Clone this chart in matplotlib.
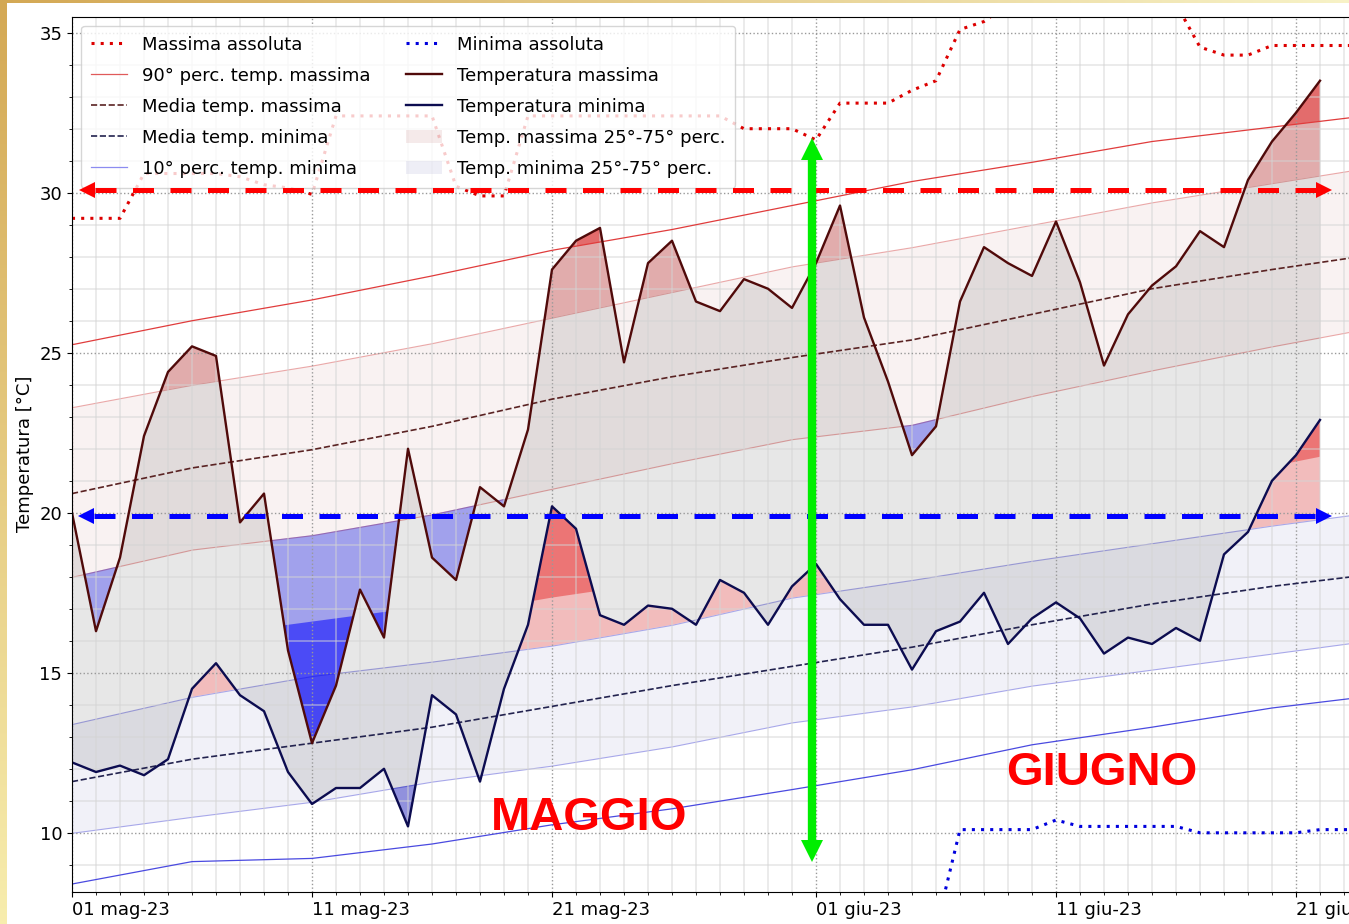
import numpy as np
import pandas as pd
import matplotlib
matplotlib.use("Agg")
import matplotlib.pyplot as plt
import matplotlib.dates as mdates
import matplotlib.transforms as mtransforms
from matplotlib.lines import Line2D
from matplotlib.patches import Patch
from matplotlib.ticker import MultipleLocator, FuncFormatter

# ---------------- data ----------------
start = "2023-05-01"
mesi = ["gen", "feb", "mar", "apr", "mag", "giu", "lug", "ago", "set", "ott", "nov", "dic"]

# observed daily values (1 May -> 22 Jun 2023)
tmax = [20.0, 16.3, 18.6, 22.4, 24.4, 25.2, 24.9, 19.7, 20.6, 15.7,
        12.8, 14.6, 17.6, 16.1, 22.0, 18.6, 17.9, 20.8, 20.2, 22.6,
        27.6, 28.5, 28.9, 24.7, 27.8, 28.5, 26.6, 26.3, 27.3, 27.0,
        26.4, 27.8, 29.6, 26.1, 24.1, 21.8, 22.7, 26.6, 28.3, 27.8,
        27.4, 29.1, 27.2, 24.6, 26.2, 27.1, 27.7, 28.8, 28.3, 30.4,
        31.6, 32.5, 33.5]
tmin = [12.2, 11.9, 12.1, 11.8, 12.3, 14.5, 15.3, 14.3, 13.8, 11.9,
        10.9, 11.4, 11.4, 12.0, 10.2, 14.3, 13.7, 11.6, 14.5, 16.5,
        20.2, 19.5, 16.8, 16.5, 17.1, 17.0, 16.5, 17.9, 17.5, 16.5,
        17.7, 18.4, 17.3, 16.5, 16.5, 15.1, 16.3, 16.6, 17.5, 15.9,
        16.7, 17.2, 16.7, 15.6, 16.1, 15.9, 16.4, 16.0, 18.7, 19.4,
        21.0, 21.8, 22.9]

# climatology, every 5 days from 1 May
p90_tmax = [25.25, 26.0, 26.65, 27.4, 28.2, 28.85, 29.6, 30.35, 30.95, 31.6, 32.05, 32.5]
p75_tmax = [23.3, 24.0, 24.6, 25.3, 26.1, 26.9, 27.7, 28.3, 29.0, 29.7, 30.3, 30.9]
mean_tmax = [20.6, 21.4, 21.97, 22.7, 23.55, 24.25, 24.85, 25.4, 26.2, 27.0, 27.6, 28.15]
p25_tmax = [18.0, 18.85, 19.3, 19.95, 20.75, 21.55, 22.3, 22.75, 23.65, 24.45, 25.2, 25.9]
p10_tmax = [15.6, 16.1, 16.6, 17.1, 17.8, 18.6, 19.3, 19.8, 20.5, 21.3, 22.0, 22.7]
p90_tmin = [14.9, 15.7, 16.2, 16.7, 17.35, 17.9, 18.6, 19.2, 19.9, 20.6, 21.45, 22.2]
p75_tmin = [13.4, 14.25, 14.9, 15.35, 15.85, 16.5, 17.35, 17.9, 18.5, 19.05, 19.6, 20.1]
mean_tmin = [11.6, 12.3, 12.8, 13.3, 13.95, 14.6, 15.2, 15.8, 16.5, 17.15, 17.7, 18.15]
p25_tmin = [10.0, 10.5, 10.97, 11.6, 12.1, 12.7, 13.45, 13.95, 14.6, 15.1, 15.6, 16.1]
p10_tmin = [8.4, 9.1, 9.2, 9.65, 10.25, 10.75, 11.35, 11.97, 12.75, 13.3, 13.9, 14.35]

# absolute records, daily from 1 May
abs_max = [29.2, 29.2, 29.2, 30.6, 30.6, 30.6, 30.6, 30.5, 30.25, 30.15,
           29.95, 32.4, 32.4, 32.4, 32.4, 32.4, 30.2, 29.9, 29.9, 32.4,
           32.4, 32.4, 32.4, 32.4, 32.4, 32.4, 32.4, 32.4, 32.0, 32.0,
           32.0, 31.65, 32.8, 32.8, 32.8, 33.2, 33.5, 35.1, 35.35, 35.9,
           36.3, 36.5, 36.5, 36.5, 36.4, 36.3, 35.9, 34.55, 34.3, 34.3,
           34.6, 34.6, 34.6, 34.6, 34.6, 34.6]
abs_min = [5.5, 5.5, 5.6, 5.8, 6.0, 6.0, 6.0, 6.0, 6.1, 6.3,
           6.3, 6.3, 6.3, 6.5, 6.5, 6.5, 6.5, 6.7, 6.7, 6.7,
           6.9, 6.9, 6.9, 6.9, 6.9, 6.9, 7.0, 7.0, 7.0, 7.0,
           7.0, 7.0, 7.0, 7.0, 7.0, 7.0, 7.0, 10.1, 10.1, 10.1,
           10.1, 10.4, 10.2, 10.2, 10.2, 10.2, 10.2, 10.0, 10.0, 10.0,
           10.0, 10.0, 10.1, 10.1, 10.1, 10.1]

labels = ["Massima assoluta", "90° perc. temp. massima", "Media temp. massima",
          "Media temp. minima", "10° perc. temp. minima", "Minima assoluta",
          "Temperatura massima", "Temperatura minima",
          "Temp. massima 25°-75° perc.", "Temp. minima 25°-75° perc."]

# ---------------- geometry / styles ----------------
W, H = 1349, 924
DPI = 100
PX_DAY = 24.0
YLIM = (8.16, 35.5)
N_DAYS_VIEW = 56
LOW, HIGH = -100.0, 200.0

x = mdates.date2num(pd.date_range(start, periods=len(tmax), freq="D"))
xc = mdates.date2num(pd.date_range(start, periods=len(p90_tmax), freq="5D"))
xa = mdates.date2num(pd.date_range(start, periods=len(abs_max), freq="D"))
x0 = mdates.date2num(pd.Timestamp(start))

fig = plt.figure(figsize=(W / DPI, H / DPI), dpi=DPI)
ax_left = 72 / W
ax_bottom = (H - 891.7) / H
ax_height = (891.7 - 16.7) / H
ax_width = N_DAYS_VIEW * PX_DAY / W
ax = fig.add_axes([ax_left, ax_bottom, ax_width, ax_height])

# gold border of the screenshot
left_strip = np.zeros((H, 7, 3))
tcol = np.linspace(0, 1, H)[:, None]
c_top = np.array([0.83, 0.66, 0.33])
c_bot = np.array([0.97, 0.93, 0.68])
left_strip[:] = (c_top * (1 - tcol) + c_bot * tcol)[:, None, :]
fig.figimage(left_strip, xo=0, yo=0, zorder=0)
top_strip = np.zeros((3, W, 3))
scol = np.linspace(0, 1, W)[:, None]
c_right = np.array([0.97, 0.95, 0.78])
top_strip[:] = (c_top * (1 - scol) + c_right * scol)[None, :, :]
fig.figimage(top_strip, xo=0, yo=H - 3, zorder=0)

# ---------------- bands ----------------
BAND_MAX_FC = (0.6, 0.1, 0.1, 0.055)
BAND_MIN_FC = (0.1, 0.1, 0.55, 0.06)
ax.fill_between(xc, p25_tmax, p75_tmax, facecolor=BAND_MAX_FC,
                edgecolor=(0.85, 0.35, 0.35, 0.5), lw=0.8)
ax.fill_between(xc, p25_tmin, p75_tmin, facecolor=BAND_MIN_FC,
                edgecolor=(0.35, 0.35, 0.85, 0.5), lw=0.8)
ax.fill_between(x, tmin, tmax, color="black", alpha=0.095, lw=0)


def anomaly(ys, thr, above, color, alpha):
    if above:
        poly = ax.fill_between(x, ys, LOW, color=color, alpha=alpha, lw=0)
        clip = ax.fill_between(xc, thr, HIGH)
    else:
        poly = ax.fill_between(x, ys, HIGH, color=color, alpha=alpha, lw=0)
        clip = ax.fill_between(xc, thr, LOW)
    path = clip.get_paths()[0]
    clip.remove()
    poly.set_clip_path(path, ax.transData)


RED_L, RED_D = (0.84, 0.14, 0.14), (0.9, 0.12, 0.12)
BLUE_L, BLUE_D = (0.0, 0.0, 0.8), (0.0, 0.0, 1.0)
for series, p75, p90, p25, p10 in [(tmax, p75_tmax, p90_tmax, p25_tmax, p10_tmax),
                                   (tmin, p75_tmin, p90_tmin, p25_tmin, p10_tmin)]:
    anomaly(series, p75, True, RED_L, 0.30)
    anomaly(series, p90, True, RED_D, 0.45)
    anomaly(series, p25, False, BLUE_L, 0.37)
    anomaly(series, p10, False, BLUE_D, 0.53)

# ---------------- lines ----------------
ax.plot(xc, p90_tmax, color="#e03c3c", lw=0.9)
ax.plot(xc, mean_tmax, color="#5a2323", lw=1.2, ls="--")
ax.plot(xc, mean_tmin, color="#23234f", lw=1.2, ls="--")
ax.plot(xc, p10_tmin, color="#4a4ae0", lw=0.9)
ax.plot(xa, abs_max, color="#dd0000", lw=2.2, ls=(0, (1, 2)))
ax.plot(xa, abs_min, color="#0000dd", lw=2.2, ls=(0, (1, 2)))
ax.plot(x, tmax, color="#500a0a", lw=1.7)
ax.plot(x, tmin, color="#0c0c50", lw=1.7)

# ---------------- axes ----------------
ax.set_xlim(x0, x0 + N_DAYS_VIEW)
ax.set_ylim(*YLIM)
ax.xaxis.set_major_locator(mdates.DayLocator(bymonthday=[1, 11, 21]))
ax.xaxis.set_minor_locator(mdates.DayLocator())


def fmt_date(v, pos):
    d = mdates.num2date(v)
    return f"{d.day:02d} {mesi[d.month - 1]}-{d:%y}"


ax.xaxis.set_major_formatter(FuncFormatter(fmt_date))
ax.yaxis.set_major_locator(MultipleLocator(5))
ax.yaxis.set_minor_locator(MultipleLocator(1))
ax.grid(which="major", color="#999999", ls=":", lw=1.0)
ax.grid(which="minor", color="#d4d4d4", alpha=0.6, lw=1.1)
ax.tick_params(labelsize=13)
for t in ax.xaxis.get_major_ticks():
    t.label1.set_horizontalalignment("left")
ax.set_ylabel("Temperatura [°C]", fontsize=13)

# ---------------- legend ----------------
handles = [
    Line2D([], [], color="#dd0000", lw=2.2, ls=(0, (1, 2))),
    Line2D([], [], color="#e05a5a", lw=0.9),
    Line2D([], [], color="#5a2323", lw=1.2, ls="--"),
    Line2D([], [], color="#23234f", lw=1.2, ls="--"),
    Line2D([], [], color="#8c8cf0", lw=0.9),
    Line2D([], [], color="#0000dd", lw=2.2, ls=(0, (1, 2))),
    Line2D([], [], color="#500a0a", lw=1.7),
    Line2D([], [], color="#0c0c50", lw=1.7),
    Patch(facecolor=(0.6, 0.1, 0.1, 0.09), edgecolor="none"),
    Patch(facecolor=(0.1, 0.1, 0.55, 0.07), edgecolor="none"),
]
ax.legend(handles=handles, labels=labels, loc="upper left", ncol=2, fontsize=13,
          framealpha=0.8, labelspacing=0.72, borderpad=0.55)

# ---------------- annotations ----------------
def marker_at(xd, yd, marker, ms, color, dx=0.0, dy=0.0):
    tr = mtransforms.offset_copy(ax.transData, fig=fig, x=dx, y=dy, units="points")
    ax.plot([xd], [yd], marker=marker, ms=ms, color=color, mew=0, ls="none",
            transform=tr, zorder=10, clip_on=False)


def h_arrow(y, d_left, d_right, color):
    ms = 11.5
    head_days = ms * DPI / 72 / PX_DAY
    ax.plot([x0 + d_left + head_days, x0 + d_right - head_days], [y, y], color=color,
            lw=3.6, ls=(0, (4.2, 3.3)), dash_capstyle="butt", zorder=10)
    marker_at(x0 + d_left, y, "<", ms, color, dx=ms / 2)
    marker_at(x0 + d_right, y, ">", ms, color, dx=-ms / 2)


ARROW_RED = dict(y=30.1, d_left=0.29, d_right=52.5)
ARROW_BLUE = dict(y=19.9, d_left=0.25, d_right=52.5)
h_arrow(color="#ff0000", **ARROW_RED)
h_arrow(color="#0000ff", **ARROW_BLUE)

GREEN_X, GREEN_TOP, GREEN_BOT = 30.85, 31.72, 9.09
g_ms = 16
head_deg = g_ms * DPI / 72 / 32.0
ax.plot([x0 + GREEN_X] * 2, [GREEN_BOT + head_deg, GREEN_TOP - head_deg], color="#00ee00",
        lw=6, solid_capstyle="butt", zorder=10)
marker_at(x0 + GREEN_X, GREEN_TOP, "^", g_ms, "#00ee00", dy=-g_ms / 2)
marker_at(x0 + GREEN_X, GREEN_BOT, "v", g_ms, "#00ee00", dy=g_ms / 2)

ax.text(x0 + 21.54, 10.09, "MAGGIO", ha="center", va="baseline", fontsize=34,
        fontweight="bold", color="#ff0000", family="Liberation Sans", zorder=11)
ax.text(x0 + 42.9, 11.5, "GIUGNO", ha="center", va="baseline", fontsize=34,
        fontweight="bold", color="#ff0000", family="Liberation Sans", zorder=11)

fig.savefig("out.png", dpi=DPI)
